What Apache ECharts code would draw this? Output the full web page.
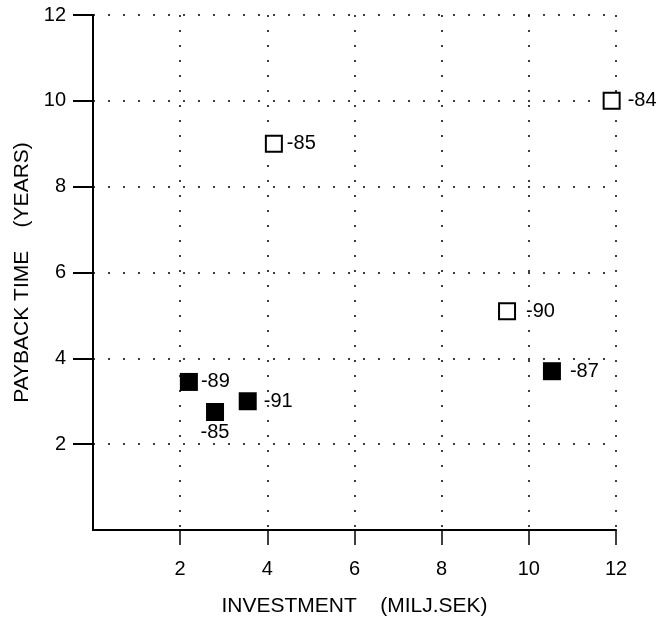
<!DOCTYPE html>
<html>
<head>
<meta charset="utf-8">
<script src="https://cdn.jsdelivr.net/npm/echarts@6/dist/echarts.min.js"></script>
<style>
html,body{margin:0;padding:0;background:#fff;}
#chart{width:658px;height:617px;}
</style>
</head>
<body>
<div id="chart"></div>
<script>
// Data
const openX = [4.15, 11.9, 9.5];
const openY = [9.0, 10.0, 5.1];
const openLabels = ['-85', '-84', '-90'];

const filledX = [2.2, 2.8, 3.55, 10.53];
const filledY = [3.45, 2.75, 3.0, 3.7];
const filledLabels = ['-89', '-85', '-91', '-87'];

const tickValues = [2, 4, 6, 8, 10, 12];
const xAxisName = 'INVESTMENT    (MILJ.SEK)';
const yAxisName = 'PAYBACK TIME    (YEARS)';

const FONT = '"Liberation Sans", Arial, sans-serif';

function pts(xs, ys, labels) {
  return xs.map((x, i) => ({ value: [x, ys[i]], name: labels[i] }));
}

const openData = pts(openX, openY, openLabels);
const filledData = pts(filledX, filledY, filledLabels);
// the filled "-85" label sits below its marker
filledData[1].label = { position: 'bottom', distance: 2 };
// individual label gaps as in the reference
openData[1].label = { distance: 7 };
openData[2].label = { distance: 10 };
filledData[2].label = { distance: 7 };
filledData[3].label = { distance: 9 };

const gridDots = { type: [2, 13], width: 1.5, color: '#000' };

const chart = echarts.init(document.getElementById('chart'), null, { renderer: 'canvas' });
chart.setOption({
  backgroundColor: '#fff',
  animation: false,
  grid: { left: 93, right: 42, top: 15, bottom: 87, containLabel: false, outerBoundsMode: 'none' },
  xAxis: {
    type: 'value', min: 0, max: 12, interval: 2,
    name: xAxisName, nameLocation: 'middle', nameGap: 66,
    nameTextStyle: { fontFamily: FONT, fontSize: 21, color: '#000' },
    axisLine: { show: true, onZero: false, lineStyle: { color: '#000', width: 2 } },
    axisTick: { show: true, customValues: tickValues, length: 15, lineStyle: { color: '#000', width: 1.5 } },
    axisLabel: { customValues: tickValues, margin: 29, fontFamily: FONT, fontSize: 20, color: '#000' },
    splitLine: { show: true, lineStyle: gridDots }
  },
  yAxis: {
    type: 'value', min: 0, max: 12, interval: 2,
    name: yAxisName, nameLocation: 'middle', nameGap: 58,
    nameTextStyle: { fontFamily: FONT, fontSize: 21, color: '#000' },
    axisLine: { show: true, onZero: false, lineStyle: { color: '#000', width: 2 } },
    axisTick: { show: true, customValues: tickValues, length: 20, lineStyle: { color: '#000', width: 2 } },
    axisLabel: { customValues: tickValues, margin: 27, fontFamily: FONT, fontSize: 20, color: '#000' },
    splitLine: { show: true, lineStyle: gridDots }
  },
  series: [
    {
      type: 'scatter', name: 'open', data: openData,
      symbol: 'rect', symbolSize: 16,
      itemStyle: { color: '#fff', borderColor: '#000', borderWidth: 2, opacity: 1 },
      label: { show: true, position: 'right', distance: 4, formatter: '{b}',
               fontFamily: FONT, fontSize: 20, color: '#000', opacity: 1 }
    },
    {
      type: 'scatter', name: 'filled', data: filledData,
      symbol: 'rect', symbolSize: 18,
      itemStyle: { color: '#000', opacity: 1 },
      label: { show: true, position: 'right', distance: 3, formatter: '{b}',
               fontFamily: FONT, fontSize: 20, color: '#000', opacity: 1 }
    }
  ]
});
</script>
</body>
</html>
